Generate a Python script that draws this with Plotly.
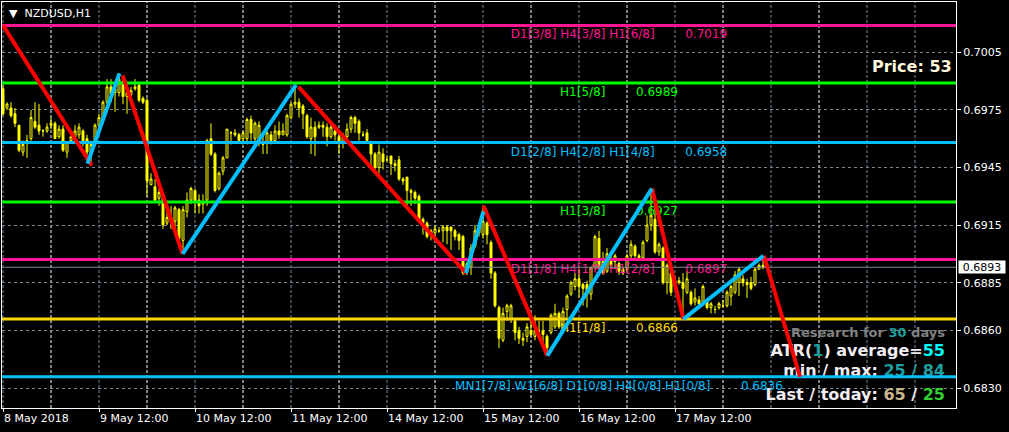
import plotly.graph_objects as go

# ---------------- data ----------------
opens = [0.6986,0.6976,0.6976,0.6973,0.6967,0.6953,0.6958,0.6960,0.6969,0.6967,
         0.6964,0.6964,0.6967,0.6968,0.6961,0.6965,0.6953,0.6959,0.6961,0.6962,
         0.6964,0.6960,0.6952,0.6957,0.6967,0.6970,0.6979,0.6987,0.6984,0.6984,
         0.6990,0.6982,0.6983,0.6986,0.6988,0.6981,0.6980,0.6936,0.6935,0.6929,
         0.6929,0.6916,0.6919,0.6917,0.6923,0.6907,0.6922,0.6928,0.6933,0.6928,
         0.6926,0.6928,0.6960,0.6952,0.6934,0.6943,0.6950,0.6963,0.6962,0.6962,
         0.6960,0.6960,0.6970,0.6960,0.6958,0.6958,0.6958,0.6962,0.6959,0.6964,
         0.6962,0.6962,0.6971,0.6978,0.6979,0.6977,0.6972,0.6960,0.6966,0.6966,
         0.6967,0.6966,0.6961,0.6964,0.6961,0.6958,0.6961,0.6965,0.6971,0.6969,
         0.6962,0.6963,0.6958,0.6952,0.6945,0.6952,0.6949,0.6951,0.6947,0.6949,
         0.6939,0.6940,0.6933,0.6932,0.6930,0.6918,0.6916,0.6910,0.6911,0.6912,
         0.6912,0.6914,0.6914,0.6912,0.6910,0.6909,0.6891,0.6893,0.6904,0.6911,
         0.6910,0.6916,0.6906,0.6890,0.6872,0.6855,0.6870,0.6866,0.6865,0.6860,
         0.6856,0.6857,0.6860,0.6857,0.6860,0.6860,0.6857,0.6859,0.6862,0.6869,
         0.6863,0.6871,0.6879,0.6883,0.6887,0.6884,0.6884,0.6879,0.6893,0.6908,
         0.6896,0.6891,0.6897,0.6896,0.6895,0.6892,0.6892,0.6899,0.6904,0.6899,
         0.6898,0.6907,0.6915,0.6918,0.6901,0.6903,0.6885,0.6890,0.6883,0.6886,
         0.6885,0.6880,0.6880,0.6875,0.6876,0.6875,0.6875,0.6872,0.6871,0.6872,
         0.6873,0.6873,0.6878,0.6880,0.6885,0.6887,0.6885,0.6885,0.6884,0.6892,
         0.6894]
highs = [0.6988,0.6979,0.6979,0.6976,0.6967,0.6959,0.6962,0.6975,0.6979,0.6978,
         0.6965,0.6968,0.6971,0.6969,0.6967,0.6967,0.6958,0.6964,0.6967,0.6968,
         0.6965,0.6962,0.6959,0.6968,0.6973,0.6980,0.6991,0.6991,0.6987,0.6994,
         0.6991,0.6986,0.6987,0.6991,0.6988,0.6982,0.6981,0.6942,0.6939,0.6934,
         0.6930,0.6922,0.6925,0.6925,0.6924,0.6925,0.6932,0.6935,0.6934,0.6931,
         0.6931,0.6960,0.6968,0.6953,0.6943,0.6951,0.6965,0.6964,0.6965,0.6963,
         0.6964,0.6971,0.6972,0.6969,0.6969,0.6962,0.6964,0.6964,0.6967,0.6969,
         0.6968,0.6973,0.6979,0.6988,0.6981,0.6978,0.6973,0.6971,0.6969,0.6969,
         0.6969,0.6968,0.6969,0.6967,0.6965,0.6963,0.6968,0.6972,0.6972,0.6970,
         0.6964,0.6965,0.6959,0.6953,0.6957,0.6955,0.6951,0.6951,0.6949,0.6951,
         0.6940,0.6940,0.6934,0.6933,0.6931,0.6919,0.6917,0.6913,0.6915,0.6914,
         0.6915,0.6915,0.6914,0.6913,0.6911,0.6910,0.6896,0.6905,0.6915,0.6916,
         0.6925,0.6917,0.6907,0.6891,0.6873,0.6872,0.6874,0.6874,0.6866,0.6862,
         0.6859,0.6864,0.6866,0.6868,0.6865,0.6865,0.6858,0.6869,0.6874,0.6870,
         0.6872,0.6879,0.6886,0.6890,0.6892,0.6885,0.6886,0.6893,0.6910,0.6912,
         0.6901,0.6903,0.6899,0.6900,0.6896,0.6893,0.6900,0.6907,0.6905,0.6900,
         0.6907,0.6920,0.6934,0.6928,0.6906,0.6904,0.6895,0.6891,0.6888,0.6888,
         0.6890,0.6891,0.6881,0.6882,0.6878,0.6884,0.6876,0.6875,0.6873,0.6875,
         0.6876,0.6881,0.6884,0.6891,0.6893,0.6889,0.6887,0.6888,0.6893,0.6895,
         0.6899]
lows = [0.6972,0.6975,0.6971,0.6966,0.6953,0.6951,0.6950,0.6959,0.6965,0.6962,
        0.6961,0.6963,0.6965,0.6960,0.6960,0.6953,0.6950,0.6959,0.6958,0.6960,
        0.6956,0.6951,0.6946,0.6956,0.6965,0.6968,0.6978,0.6979,0.6974,0.6982,
        0.6978,0.6973,0.6979,0.6985,0.6979,0.6978,0.6930,0.6936,0.6927,0.6925,
        0.6913,0.6915,0.6913,0.6913,0.6907,0.6900,0.6919,0.6926,0.6921,0.6921,
        0.6921,0.6925,0.6951,0.6932,0.6933,0.6941,0.6950,0.6957,0.6961,0.6958,
        0.6957,0.6957,0.6959,0.6956,0.6956,0.6952,0.6952,0.6957,0.6958,0.6960,
        0.6962,0.6961,0.6970,0.6976,0.6971,0.6965,0.6960,0.6952,0.6951,0.6965,
        0.6961,0.6956,0.6960,0.6959,0.6952,0.6955,0.6960,0.6963,0.6963,0.6959,
        0.6961,0.6958,0.6946,0.6943,0.6942,0.6944,0.6948,0.6941,0.6943,0.6938,
        0.6936,0.6925,0.6925,0.6926,0.6918,0.6910,0.6908,0.6907,0.6909,0.6911,
        0.6906,0.6905,0.6902,0.6907,0.6902,0.6889,0.6889,0.6889,0.6903,0.6909,
        0.6908,0.6905,0.6887,0.6872,0.6851,0.6854,0.6865,0.6864,0.6855,0.6853,
        0.6852,0.6854,0.6857,0.6855,0.6859,0.6854,0.6847,0.6858,0.6861,0.6861,
        0.6860,0.6867,0.6878,0.6881,0.6877,0.6873,0.6872,0.6876,0.6892,0.6892,
        0.6889,0.6890,0.6892,0.6892,0.6889,0.6889,0.6891,0.6897,0.6898,0.6897,
        0.6897,0.6906,0.6912,0.6900,0.6899,0.6884,0.6879,0.6878,0.6882,0.6884,
        0.6867,0.6879,0.6873,0.6873,0.6873,0.6873,0.6871,0.6869,0.6869,0.6871,
        0.6872,0.6872,0.6873,0.6879,0.6878,0.6883,0.6877,0.6881,0.6883,0.6892,
        0.6892]
closes = [0.6973,0.6978,0.6972,0.6968,0.6954,0.6957,0.6959,0.6971,0.6966,0.6964,
          0.6964,0.6966,0.6968,0.6960,0.6965,0.6954,0.6958,0.6961,0.6964,0.6966,
          0.6959,0.6953,0.6957,0.6967,0.6971,0.6979,0.6987,0.6983,0.6986,0.6991,
          0.6982,0.6984,0.6985,0.6987,0.6980,0.6979,0.6938,0.6939,0.6928,0.6932,
          0.6915,0.6919,0.6917,0.6924,0.6908,0.6923,0.6928,0.6934,0.6927,0.6925,
          0.6927,0.6959,0.6952,0.6933,0.6942,0.6950,0.6965,0.6963,0.6963,0.6959,
          0.6963,0.6970,0.6963,0.6968,0.6967,0.6957,0.6963,0.6959,0.6964,0.6962,
          0.6964,0.6972,0.6978,0.6979,0.6976,0.6973,0.6961,0.6966,0.6961,0.6967,
          0.6966,0.6961,0.6966,0.6962,0.6958,0.6961,0.6965,0.6971,0.6968,0.6963,
          0.6962,0.6959,0.6952,0.6945,0.6953,0.6948,0.6949,0.6947,0.6946,0.6939,
          0.6938,0.6933,0.6932,0.6929,0.6918,0.6916,0.6909,0.6912,0.6913,0.6912,
          0.6914,0.6912,0.6912,0.6909,0.6907,0.6890,0.6895,0.6903,0.6912,0.6915,
          0.6917,0.6910,0.6890,0.6873,0.6856,0.6869,0.6873,0.6873,0.6859,0.6856,
          0.6855,0.6862,0.6858,0.6860,0.6860,0.6858,0.6851,0.6868,0.6869,0.6862,
          0.6870,0.6878,0.6885,0.6887,0.6883,0.6882,0.6879,0.6893,0.6909,0.6893,
          0.6890,0.6900,0.6894,0.6899,0.6891,0.6890,0.6899,0.6905,0.6899,0.6898,
          0.6906,0.6915,0.6920,0.6901,0.6905,0.6885,0.6894,0.6880,0.6886,0.6885,
          0.6882,0.6887,0.6874,0.6877,0.6874,0.6883,0.6872,0.6874,0.6871,0.6874,
          0.6873,0.6880,0.6883,0.6889,0.6892,0.6885,0.6884,0.6882,0.6892,0.6894,
          0.6893]

xtick_bars = [0, 24, 48, 72, 96, 120, 144, 168]
xtick_labels = ["8 May 2018", "9 May 12:00", "10 May 12:00", "11 May 12:00",
                "14 May 12:00", "15 May 12:00", "16 May 12:00", "17 May 12:00"]
noon_grid_bars = [0, 24, 48, 72, 96, 120, 144, 168, 192, 216, 228]
midnight_bars = [12, 36, 60, 84, 108, 132, 156, 180, 204]
ytick_values = [0.7005, 0.6975, 0.6945, 0.6915, 0.6885, 0.6860, 0.6830]

level_prices = [0.7019, 0.6989, 0.6958, 0.6927, 0.6897, 0.6866, 0.6836]
level_labels = ["D1[3/8] H4[3/8] H1[6/8]", "H1[5/8]", "D1[2/8] H4[2/8] H1[4/8]",
                "H1[3/8]", "D1[1/8] H4[1/8] H1[2/8]", "H1[1/8]",
                "MN1[7/8] W1[6/8] D1[0/8] H4[0/8] H1[0/8]"]
level_colors = ["#FF1493", "#00FF00", "#00BFFF", "#00FF00", "#FF1493", "#FFD700", "#00BFFF"]

bid_price = 0.6893

# zigzag legs (bar index, price)
red_legs = [[(0, 0.7019), (22.2, 0.6946)],
            [(29.9, 0.6993), (44.9, 0.6900)],
            [(73.9, 0.6987), (115.75, 0.6890)],
            [(120.1, 0.6925), (136.1, 0.6847)],
            [(162.25, 0.6934), (170.1, 0.6866)],
            [(190.25, 0.6899), (199.25, 0.6836)]]
blue_legs = [[(21.1, 0.6947), (29.1, 0.6994)],
             [(44.9, 0.6900), (73.25, 0.6988)],
             [(115.75, 0.6890), (120.1, 0.6922)],
             [(136.1, 0.6847), (162.2, 0.6934)],
             [(170.1, 0.6866), (190.1, 0.6899)]]

price_counter = 53
research_days = 30
atr_period = 1
atr_average = 55
atr_min, atr_max = 25, 84
last_range, today_range = 65, 25

# ---------------- layout geometry ----------------
W, H = 1009, 432
ML, MR, MT, MB = 2, 53, 2, 24
PW, PH = W - ML - MR, H - MT - MB
X0, X1 = -0.25, 238.25
Y0, Y1 = 0.68197, 0.70312


def px_x(px):
    return X0 + (px - ML) / PW * (X1 - X0)


def px_y(py):
    return Y1 - (py - MT) / PH * (Y1 - Y0)


def paper_x(px):
    return (px - ML) / PW


def paper_y(py):
    return 1 - (py - MT) / PH


FONT = "DejaVu Sans"
NB = "\u00a0"
bars = list(range(len(closes)))

fig = go.Figure()

# level labels (background text)
dy = (Y1 - Y0) / PH * 10
fig.add_trace(go.Scatter(
    x=[px_x(619)] * len(level_prices),
    y=[p - dy for p in level_prices],
    mode="text",
    text=[f"{lab}{NB * 8}{p:.4f}" for lab, p in zip(level_labels, level_prices)],
    textposition="middle center",
    textfont=dict(family=FONT, size=12, color=level_colors),
    hoverinfo="skip"))

# ATR info block
info_text = [
    f"<b>Research for <span style='color:#1E9E9E'>{research_days}</span> days</b>",
    f"<b>ATR(<span style='color:#1E9E9E'>{atr_period}</span>) average=<span style='color:#00FFFF'>{atr_average}</span></b>",
    f"<b>min / max: <span style='color:#1E9E9E'>{atr_min} / {atr_max}</span></b>",
    f"<b>Last / today: <span style='color:#C8B48C'>{last_range}</span> / <span style='color:#32CD32'>{today_range}</span></b>",
]
fig.add_trace(go.Scatter(
    x=[px_x(945)] * 4,
    y=[px_y(333.5), px_y(352), px_y(372), px_y(396)],
    mode="text",
    text=info_text,
    textposition="middle left",
    textfont=dict(family=FONT, size=[13, 16, 16, 16],
                  color=["#808080", "#F2ECF2", "#F2ECF2", "#F2ECF2"]),
    hoverinfo="skip"))

# bid line
fig.add_trace(go.Scatter(x=[X0, X1], y=[bid_price, bid_price], mode="lines",
                         line=dict(color="#778899", width=1), hoverinfo="skip"))

# candles
fig.add_trace(go.Candlestick(
    x=bars, open=opens, high=highs, low=lows, close=closes,
    increasing=dict(line=dict(color="#FFFF00", width=1), fillcolor="#000000"),
    decreasing=dict(line=dict(color="#FFFF00", width=1), fillcolor="#FFFF00"),
    whiskerwidth=0, hoverinfo="skip"))

# level lines
for p, c in zip(level_prices, level_colors):
    fig.add_trace(go.Scatter(x=[X0, X1], y=[p, p], mode="lines",
                             line=dict(color=c, width=3), hoverinfo="skip"))


def legs_xy(legs):
    xs, ys = [], []
    for leg in legs:
        for b, p in leg:
            xs.append(b)
            ys.append(p)
        xs.append(None)
        ys.append(None)
    return xs, ys


rx, ry = legs_xy(red_legs)
bx, by = legs_xy(blue_legs)
fig.add_trace(go.Scatter(x=rx, y=ry, mode="lines", line=dict(color="#FF0000", width=4),
                         hoverinfo="skip"))
fig.add_trace(go.Scatter(x=bx, y=by, mode="lines", line=dict(color="#00BFFF", width=4),
                         hoverinfo="skip"))

shapes = []
for b in noon_grid_bars:
    shapes.append(dict(type="line", xref="x", yref="paper", x0=b, x1=b, y0=0, y1=1,
                       line=dict(color="#778899", width=1, dash="3px,2px"), layer="below"))
for b in midnight_bars:
    shapes.append(dict(type="line", xref="x", yref="paper", x0=b, x1=b, y0=0, y1=1,
                       line=dict(color="#FFFFFF", width=1, dash="3px,2px"), layer="below"))

annotations = [
    dict(text=f"\u25BC{NB * 2}NZDUSD,H1", xref="paper", yref="paper",
         x=paper_x(7), y=paper_y(13), xanchor="left", yanchor="middle",
         showarrow=False, font=dict(family=FONT, size=11, color="#FFFFFF")),
    dict(text=f"<b>Price: {price_counter}</b>", xref="paper", yref="paper",
         x=paper_x(954), y=paper_y(67), xanchor="right", yanchor="middle",
         showarrow=False, font=dict(family=FONT, size=16, color="#FFF8DC")),
    dict(text=f"{bid_price:.4f}", xref="paper", yref="y",
         x=paper_x(958), y=bid_price, xanchor="left", yanchor="middle",
         showarrow=False, bgcolor="#FFFFFF", width=46, height=12, borderpad=0,
         font=dict(family=FONT, size=11, color="#000000")),
]

fig.update_layout(
    width=W, height=H,
    margin=dict(l=ML, r=MR, t=MT, b=MB, autoexpand=False),
    paper_bgcolor="#000000", plot_bgcolor="#000000",
    showlegend=False,
    shapes=shapes,
    annotations=annotations,
    xaxis=dict(range=[X0, X1], tickmode="array", tickvals=xtick_bars, ticktext=xtick_labels,
               ticks="outside", ticklen=3, tickcolor="#FFFFFF",
               ticklabelposition="outside right",
               tickfont=dict(family=FONT, size=11, color="#FFFFFF"),
               showgrid=False, zeroline=False, showline=True, linecolor="#FFFFFF",
               linewidth=1, mirror=True, rangeslider=dict(visible=False), fixedrange=True,
               automargin=False),
    yaxis=dict(range=[Y0, Y1], side="right", tickmode="array", tickvals=ytick_values,
               ticktext=[f"{v:.4f}" for v in ytick_values],
               ticks="outside", ticklen=4, tickcolor="#FFFFFF",
               tickfont=dict(family=FONT, size=11, color="#FFFFFF"),
               showgrid=True, gridcolor="#778899", gridwidth=1, griddash="3px,3px",
               zeroline=False, showline=True, linecolor="#FFFFFF", linewidth=1,
               mirror=True, fixedrange=True, automargin=False),
)

fig.write_html(
    "out.html",
    config={"displayModeBar": False},
    post_script="document.body.style.margin='0';document.body.style.overflow='hidden';",
)
